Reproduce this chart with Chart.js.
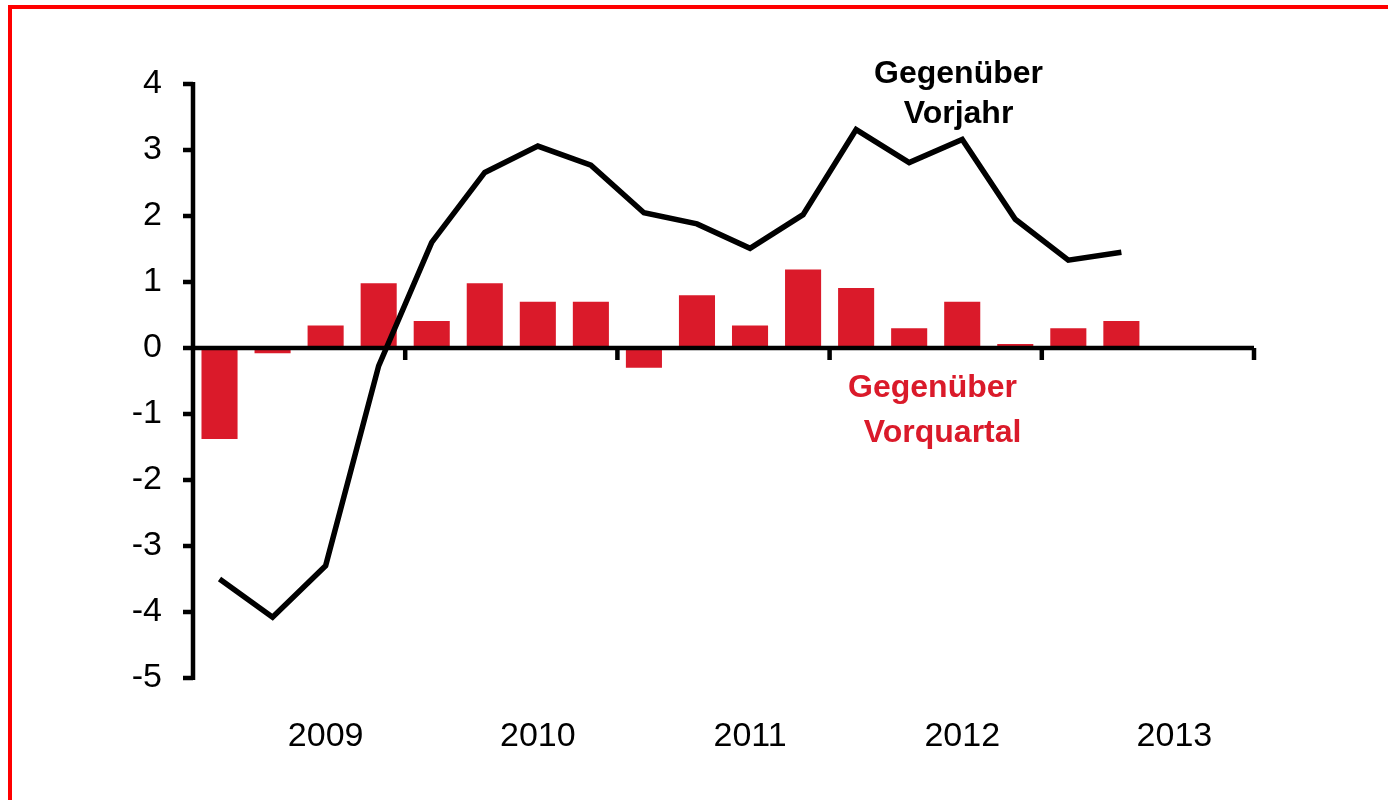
<!DOCTYPE html>
<html>
<head>
<meta charset="utf-8">
<script src="https://cdn.jsdelivr.net/npm/chart.js@4"></script>
<style>
  html, body { margin: 0; padding: 0; background: #fff; overflow: hidden; }
  #frame { position: absolute; left: 8px; top: 5px; width: 1500px; height: 900px; border: 4px solid #ff0000; }
  #wrap { position: absolute; left: 0; top: 0; width: 1388px; height: 800px; }
</style>
</head>
<body>
<div id="frame"></div>
<div id="wrap"><canvas id="gdpChart" width="1388" height="800"></canvas></div>
<script>
// quarters 2008 Q4 .. 2013 Q3 (20 slots, year label sits under the 3rd slot of each group)
const quarters = ['', '', '2009', '', '', '', '2010', '', '', '', '2011', '', '', '', '2012', '', '', '', '2013', ''];
const vorquartal = [-1.38, -0.08, 0.34, 0.98, 0.41, 0.98, 0.7, 0.7, -0.3, 0.8, 0.34, 1.19, 0.91, 0.3, 0.7, 0.06, 0.3, 0.41, null, null];
const vorjahr = [-3.5, -4.08, -3.3, -0.27, 1.6, 2.66, 3.06, 2.77, 2.05, 1.88, 1.51, 2.02, 3.31, 2.81, 3.16, 1.95, 1.33, 1.45, null, null];
const yearBoundaries = [3.5, 7.5, 11.5, 15.5, 19.5];

const red = '#da1a2a';
const tickFont = { family: "'Liberation Sans', Arial, sans-serif", size: 34 };

const axesPlugin = {
    id: 'axesPlugin',
    afterDatasetsDraw(chart) {
        const ctx = chart.ctx;
        const x = chart.scales.x, y = chart.scales.y;
        const area = chart.chartArea;
        const y0 = y.getPixelForValue(0);
        ctx.save();
        ctx.strokeStyle = '#000';
        ctx.lineWidth = 4.5;
        ctx.lineCap = 'butt';
        ctx.beginPath();
        // y axis + ticks
        ctx.moveTo(area.left, y.getPixelForValue(4) - 2);
        ctx.lineTo(area.left, y.getPixelForValue(-5) + 2);
        for (let v = -5; v <= 4; v++) {
            const py = y.getPixelForValue(v);
            ctx.moveTo(area.left - 10, py);
            ctx.lineTo(area.left, py);
        }
        // x axis at zero + year boundary ticks
        ctx.moveTo(area.left - 10, y0);
        ctx.lineTo(area.right, y0);
        yearBoundaries.forEach(b => {
            const px = x.getPixelForValue(b);
            ctx.moveTo(px, y0);
            ctx.lineTo(px, y0 + 12);
        });
        ctx.stroke();
        ctx.restore();
    },
    afterDraw(chart) {
        const ctx = chart.ctx;
        const x = chart.scales.x, y = chart.scales.y;
        ctx.save();
        ctx.font = "bold 32px 'Liberation Sans', Arial, sans-serif";
        ctx.textAlign = 'center';
        ctx.textBaseline = 'alphabetic';
        ctx.fillStyle = '#000';
        ctx.fillText('Gegenüber', x.getPixelForValue(13.93), y.getPixelForValue(4.02));
        ctx.fillText('Vorjahr', x.getPixelForValue(13.93), y.getPixelForValue(3.41));
        ctx.fillStyle = red;
        ctx.fillText('Gegenüber', x.getPixelForValue(13.44), y.getPixelForValue(-0.74));
        ctx.fillText('Vorquartal', x.getPixelForValue(13.63), y.getPixelForValue(-1.43));
        ctx.restore();
    }
};

new Chart(document.getElementById('gdpChart'), {
    type: 'bar',
    data: {
        labels: quarters,
        datasets: [
            {
                type: 'line',
                label: 'Gegenüber Vorjahr',
                data: vorjahr,
                borderColor: '#000',
                borderWidth: 5.5,
                pointRadius: 0,
                tension: 0,
                fill: false,
                order: 0
            },
            {
                type: 'bar',
                label: 'Gegenüber Vorquartal',
                data: vorquartal,
                backgroundColor: red,
                borderWidth: 0,
                barPercentage: 0.68,
                categoryPercentage: 1,
                order: 1
            }
        ]
    },
    plugins: [axesPlugin],
    options: {
        responsive: false,
        animation: false,
        devicePixelRatio: 1,
        layout: { padding: { top: 84, right: 134, left: 0, bottom: 0 } },
        plugins: { legend: { display: false }, tooltip: { enabled: false }, title: { display: false } },
        scales: {
            x: {
                offset: true,
                grid: { display: false, drawTicks: false },
                border: { display: false },
                ticks: {
                    autoSkip: false,
                    maxRotation: 0,
                    padding: 38,
                    color: '#000',
                    font: tickFont,
                    callback: (v, i) => quarters[i]
                },
                afterFit: s => { s.height = 122; }
            },
            y: {
                min: -5,
                max: 4,
                grid: { display: false, drawTicks: false },
                border: { display: false },
                ticks: { stepSize: 1, padding: 31, color: '#000', font: tickFont },
                afterFit: s => { s.width = 193; }
            }
        }
    }
});
</script>
</body>
</html>
